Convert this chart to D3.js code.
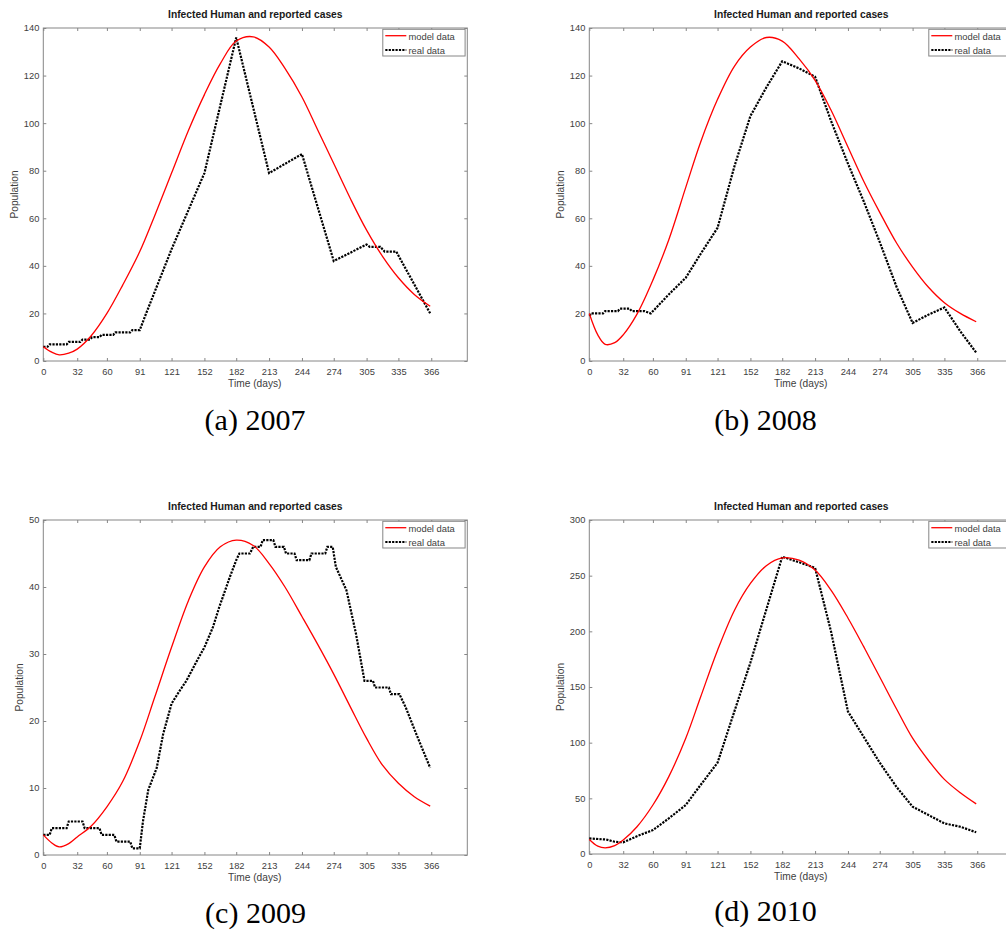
<!DOCTYPE html>
<html>
<head>
<meta charset="utf-8">
<script src="https://cdn.jsdelivr.net/npm/d3@7"></script>
<style>
body { margin: 0; background: #fff; }
svg text { font-family: "Liberation Sans", Arial, sans-serif; }
</style>
</head>
<body>
<div id="chart"></div>
<script>
const width = 1006;
const height = 933;

// month ticks on the time axis
const monthTicks = [0, 32, 60, 91, 121, 152, 182, 213, 244, 274, 305, 335, 366];

// model curves, read at these days
const modelDays = [0, 8, 15, 24, 32, 45, 60, 75, 91, 105, 121, 137, 152, 167, 182, 198, 213, 228, 244, 259, 274, 290, 305, 320, 335, 350, 365];
const model2007 = [6, 3.7, 2.6, 3.3, 5, 10.5, 20, 32, 46, 61, 79, 97, 112, 125, 134.5, 136.3, 132, 123, 111, 97, 83, 68, 55, 44, 35, 28, 23];
const model2008 = [20, 11, 7, 7.7, 11, 19.7, 34, 51, 73, 92, 110, 124, 132, 136, 134.5, 127, 118, 105.5, 90, 75.5, 62.5, 49.5, 39.5, 31, 24.5, 20, 16.5];
const model2009 = [3, 1.8, 1.2, 1.7, 2.7, 4.3, 7.2, 11, 17, 23.5, 31, 38, 43, 46, 47, 46.2, 43.5, 40, 35.6, 31.4, 27, 22, 17.4, 13.4, 10.7, 8.7, 7.3];
const model2010 = [13, 7, 5.5, 7.5, 12.5, 24.5, 44, 69.5, 104, 141, 183, 219, 243, 259, 266, 264, 255, 237, 212, 186, 159, 130, 104, 84, 67, 55, 45];

// reported cases
const real2007Days = [0, 4, 6, 22, 24, 35, 37, 44, 46, 53, 55, 66, 68, 82, 84, 91, 97, 121, 152, 182, 213, 244, 274, 305, 308, 318, 320, 322, 333, 365];
const real2007 = [6, 6, 7, 7, 8, 8, 9, 9, 10, 10, 11, 11, 12, 12, 13, 13, 20, 47, 79, 136, 79, 87, 42, 49, 48, 48, 47, 46, 46, 20];
const real2008Days = [0, 2, 13, 15, 27, 29, 38, 40, 52, 58, 75, 91, 105, 121, 137, 152, 167, 182, 198, 213, 228, 244, 259, 274, 290, 305, 320, 335, 350, 365];
const real2008 = [19, 20, 20, 21, 21, 22, 22, 21, 21, 20, 28, 35, 45, 56, 82, 103, 115, 126, 123, 119.5, 101, 83, 67, 50, 31, 16, 19.5, 22.5, 12.5, 3.5];
const real2009Days = [0, 6, 8, 22, 24, 37, 39, 53, 55, 67, 69, 82, 84, 91, 94, 99, 107, 113, 121, 129, 135, 145, 152, 160, 166, 176, 182, 185, 195, 198, 205, 207, 217, 219, 227, 229, 237, 239, 251, 253, 266, 268, 273, 276, 286, 295, 303, 311, 313, 326, 328, 336, 342, 352, 365];
const real2009 = [3, 3, 4, 4, 5, 5, 4, 4, 3, 3, 2, 2, 1, 1, 5, 9.7, 13, 18, 22.6, 24.6, 26, 29, 31, 34, 37, 41.5, 44, 45, 45, 46, 46, 47, 47, 46, 46, 45, 45, 44, 44, 45, 45, 46, 46, 43, 39.5, 33, 26, 26, 25, 25, 24, 24, 22, 18, 13];
const real2010Days = [0, 16, 24, 32, 45, 60, 75, 91, 105, 121, 152, 182, 198, 213, 228, 244, 259, 274, 290, 305, 320, 335, 350, 365];
const real2010 = [14, 13, 11, 10.5, 16, 21.5, 32, 44, 62, 82, 172, 267, 262, 257, 200, 128, 105, 82, 60, 42.5, 35, 27.5, 24.5, 19.5];

const yMaxes = [140, 140, 50, 300];
const yTickSteps = [20, 20, 10, 50];
const captions = ["(a) 2007", "(b) 2008", "(c) 2009", "(d) 2010"];
const legendLabels = ["model data", "real data"];

// layout of the four panels
const plotW = 424;
const layout = [
    { left: 43.3, top: 28, bottom: 361, capX: 255, capY: 430 },
    { left: 589.3, top: 28, bottom: 361, capX: 765.5, capY: 430 },
    { left: 43.3, top: 520, bottom: 855, capX: 255.5, capY: 923 },
    { left: 589.3, top: 520, bottom: 854, capX: 765.5, capY: 921 }
];

const models = [model2007, model2008, model2009, model2010];
const realDays = [real2007Days, real2008Days, real2009Days, real2010Days];
const reals = [real2007, real2008, real2009, real2010];

const svg = d3.select("#chart")
    .append("svg")
    .attr("width", width)
    .attr("height", height)
    .style("display", "block");

svg.append("rect").attr("width", width).attr("height", height).attr("fill", "#fff");

const frameColor = "#868686";
const textColor = "#404040";

layout.forEach((p, i) => {
    const g = svg.append("g");
    const x = d3.scaleLinear().domain([0, 400]).range([p.left, p.left + plotW]);
    const y = d3.scaleLinear().domain([0, yMaxes[i]]).range([p.bottom, p.top]);
    const yTicks = d3.range(0, yMaxes[i] + 0.001, yTickSteps[i]);

    // frame
    g.append("rect")
        .attr("x", p.left).attr("y", p.top)
        .attr("width", plotW).attr("height", p.bottom - p.top)
        .attr("fill", "none")
        .attr("stroke", frameColor)
        .attr("stroke-width", 1);

    // axes, ticks pointing in
    g.append("g")
        .attr("transform", `translate(0,${p.bottom})`)
        .call(d3.axisBottom(x).tickValues(monthTicks).tickSizeInner(-3).tickSizeOuter(0).tickPadding(7).tickFormat(d3.format("d")));
    g.append("g")
        .attr("transform", `translate(0,${p.top})`)
        .call(d3.axisTop(x).tickValues(monthTicks).tickSizeInner(-3).tickSizeOuter(0).tickFormat(""));
    const leftAxis = g.append("g")
        .attr("transform", `translate(${p.left},0)`)
        .call(d3.axisLeft(y).tickValues(yTicks).tickSizeInner(-3).tickSizeOuter(0).tickPadding(4).tickFormat(d3.format("d")));
    g.append("g")
        .attr("transform", `translate(${p.left + plotW},0)`)
        .call(d3.axisRight(y).tickValues(yTicks).tickSizeInner(-3).tickSizeOuter(0).tickFormat(""));

    g.selectAll(".domain").remove();
    g.selectAll(".tick line").attr("stroke", frameColor);
    g.selectAll(".tick text")
        .attr("fill", textColor)
        .style("font-size", "9.3px")
        .style("font-family", "'Liberation Sans', Arial, sans-serif");

    // lines
    const modelLine = d3.line()
        .x((d, k) => x(modelDays[k]))
        .y(d => y(d))
        .curve(d3.curveCatmullRom.alpha(0.5));
    const realLine = d3.line()
        .x((d, k) => x(realDays[i][k]))
        .y(d => y(d));

    g.append("path")
        .datum(reals[i])
        .attr("d", realLine)
        .attr("fill", "none")
        .attr("stroke", "#000")
        .attr("stroke-width", 2.2)
        .attr("stroke-dasharray", "2.2,1.2");

    g.append("path")
        .datum(models[i])
        .attr("d", modelLine)
        .attr("fill", "none")
        .attr("stroke", "#ff0000")
        .attr("stroke-width", 1.3);

    // title and labels
    g.append("text")
        .attr("x", p.left + plotW / 2)
        .attr("y", p.top - 10.5)
        .attr("text-anchor", "middle")
        .attr("font-weight", "bold")
        .attr("fill", "#1a1a1a")
        .style("font-size", "10.3px")
        .text("Infected Human and reported cases");

    g.append("text")
        .attr("x", p.left + plotW / 2 - 0.5)
        .attr("y", p.bottom + 25.5)
        .attr("text-anchor", "middle")
        .attr("fill", textColor)
        .style("font-size", "10.2px")
        .text("Time (days)");

    let maxW = 0;
    leftAxis.selectAll("text").each(function() {
        maxW = Math.max(maxW, this.getComputedTextLength());
    });
    const lx = p.left - maxW - 10;
    const ly = (p.top + p.bottom) / 2;
    g.append("text")
        .attr("transform", `translate(${lx},${ly}) rotate(-90)`)
        .attr("text-anchor", "middle")
        .attr("fill", textColor)
        .style("font-size", "10.2px")
        .text("Population");

    // legend
    const lg = g.append("g")
        .attr("transform", `translate(${p.left + plotW - 84.5},${p.top + 1.3})`);
    lg.append("rect")
        .attr("width", 82.3).attr("height", 26.7)
        .attr("fill", "#fff")
        .attr("stroke", frameColor)
        .attr("stroke-width", 1);
    lg.append("line")
        .attr("x1", 2.5).attr("x2", 23.5).attr("y1", 6.4).attr("y2", 6.4)
        .attr("stroke", "#ff0000").attr("stroke-width", 1.3);
    lg.append("line")
        .attr("x1", 2.5).attr("x2", 23.5).attr("y1", 20.7).attr("y2", 20.7)
        .attr("stroke", "#000").attr("stroke-width", 2.2).attr("stroke-dasharray", "2.2,1.2");
    lg.selectAll("text.leg")
        .data(legendLabels)
        .join("text")
        .attr("class", "leg")
        .attr("x", 25.6)
        .attr("y", (d, k) => 11.2 + k * 14)
        .attr("fill", textColor)
        .style("font-size", "9.4px")
        .text(d => d);

    // caption under the panel
    svg.append("text")
        .attr("x", p.capX)
        .attr("y", p.capY)
        .attr("text-anchor", "middle")
        .attr("fill", "#000")
        .style("font-family", "'Liberation Serif', 'Times New Roman', serif")
        .style("font-size", "30px")
        .text(captions[i]);
});
</script>
</body>
</html>
